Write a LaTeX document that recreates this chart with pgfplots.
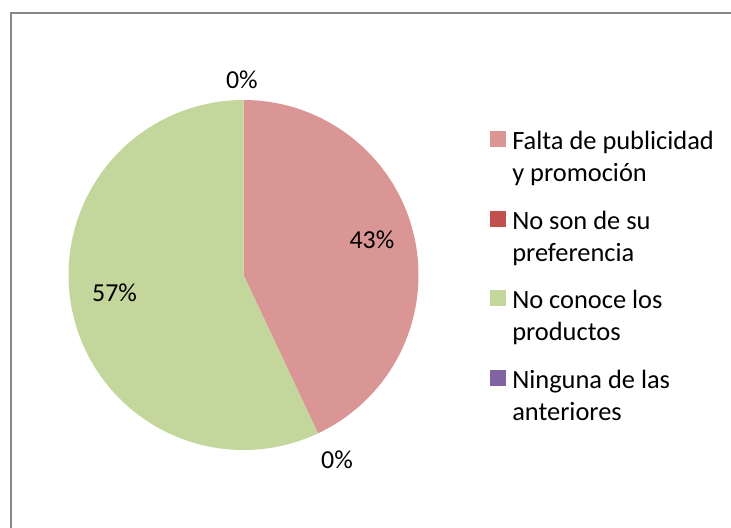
\documentclass[border=0pt]{standalone}
\usepackage{pgfplots}
\pgfplotsset{compat=1.18}
\usepackage{fontspec}
\setmainfont{Carlito}

\definecolor{cPink}{RGB}{217,150,148}
\definecolor{cRed}{RGB}{192,80,77}
\definecolor{cGreen}{RGB}{195,214,155}
\definecolor{cPurple}{RGB}{128,100,162}
\definecolor{frameGray}{RGB}{134,134,134}

% percentages of each category
\def\vA{43}\def\vB{0}\def\vC{57}\def\vD{0}

\begin{document}
\begin{tikzpicture}
\path[use as bounding box] (0bp,0bp) rectangle (731bp,-528bp);
\draw[frameGray, line width=2bp] (11bp,-600bp) -- (11bp,-12.5bp) -- (800bp,-12.5bp);

\pgfmathsetmacro\aA{90}
\pgfmathsetmacro\aB{\aA-3.6*\vA}
\pgfmathsetmacro\aC{\aB-3.6*\vB}
\pgfmathsetmacro\aD{\aC-3.6*\vC}

\begin{axis}[
  at={(243.5bp,-275bp)}, anchor=center,
  width=350bp, height=350bp, scale only axis,
  xmin=-1, xmax=1, ymin=-1, ymax=1,
  hide axis, clip=false,
  legend style={draw=none, fill=none, inner sep=0pt, outer sep=0pt,
    at={(1.204,0.911)}, anchor=north west,
    font=\fontsize{26.5}{32}\selectfont,
    row sep=27.5bp, column sep=7bp,
    nodes={inner sep=0pt},
    cells={align=left, anchor=west}},
  legend image code/.code={\fill[#1] (0bp,11bp) rectangle (15bp,26bp);},
]
\addplot[fill=cPink, draw=none, domain=\aB:\aA, samples=120, variable=\t, forget plot]
  ({cos(\t)},{sin(\t)}) -- (0,0) -- cycle;
\addplot[fill=cGreen, draw=none, domain=\aD:\aC, samples=120, variable=\t, forget plot]
  ({cos(\t)},{sin(\t)}) -- (0,0) -- cycle;

\addlegendimage{cPink}
\addlegendentry{Falta de publicidad\\y promoción}
\addlegendimage{cRed}
\addlegendentry{No son de su\\preferencia}
\addlegendimage{cGreen}
\addlegendentry{No conoce los\\productos}
\addlegendimage{cPurple}
\addlegendentry{Ninguna de las\\anteriores}

\begin{scope}[font=\fontsize{26}{31}\selectfont]
\node at (axis cs:0.734,0.2) {\vA\%};
\node at (axis cs:-0.737,-0.103) {\vC\%};
\node at (axis cs:-0.009,1.114) {\vD\%};
\node at (axis cs:0.534,-1.057) {\vB\%};
\end{scope}
\end{axis}
\end{tikzpicture}
\end{document}
